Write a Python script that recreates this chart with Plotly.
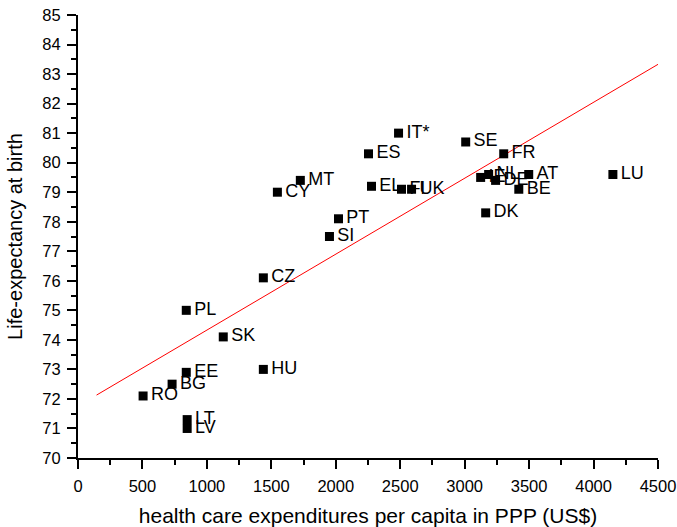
import plotly.graph_objects as go

countries = ["RO", "BG", "EE", "LT", "LV", "HU", "SK", "PL", "CZ", "SI", "PT", "CY", "MT",
             "EL", "FI", "UK", "ES", "IT*", "SE", "FR", "IE", "NL", "DE", "AT", "BE", "DK", "LU"]
expenditure = [505, 730, 840, 847, 847, 1438, 1127, 840, 1438, 1951, 2021, 1547, 1725,
               2277, 2510, 2588, 2254, 2487, 3008, 3303, 3124, 3186, 3240, 3497, 3420, 3163, 4150]
life_exp = [72.1, 72.5, 72.9, 71.3, 71.0, 73.0, 74.1, 75.0, 76.1, 77.5, 78.1, 79.0, 79.4,
            79.2, 79.1, 79.1, 80.3, 81.0, 80.7, 80.3, 79.5, 79.6, 79.4, 79.6, 79.1, 78.3, 79.6]
labels = countries

fit_x = [144, 4500]
fit_slope = 0.002571
fit_intercept = 71.76
fit_y = [fit_intercept + fit_slope * v for v in fit_x]

font_family = "Liberation Sans, Arial, sans-serif"

fig = go.Figure()
fig.add_trace(go.Scatter(
    x=fit_x, y=fit_y, mode="lines",
    line=dict(color="#ff0000", width=1), hoverinfo="skip", showlegend=False))
# labels (with invisible markers so the text sits beside the square)
fig.add_trace(go.Scatter(
    x=expenditure, y=life_exp, mode="markers+text", text=labels,
    textposition="middle right",
    marker=dict(symbol="square", size=11, color="rgba(0,0,0,0)", line=dict(width=0)),
    textfont=dict(family=font_family, size=18, color="black"),
    showlegend=False))
# visible markers drawn on top of labels
fig.add_trace(go.Scatter(
    x=expenditure, y=life_exp, mode="markers",
    marker=dict(symbol="square", size=9, color="black", line=dict(width=0)),
    showlegend=False))

axis_common = dict(
    showline=True, linecolor="black", linewidth=2,
    ticks="outside", ticklen=9, tickwidth=1.6, tickcolor="black",
    showgrid=False, zeroline=False, mirror=False, automargin=False,
    tickfont=dict(family=font_family, size=16.5, color="black"),
)

fig.update_xaxes(
    range=[0, 4500], tickmode="linear", tick0=0, dtick=500,
    minor=dict(ticks="outside", ticklen=5, tickwidth=1.6, tickcolor="black", dtick=250),
    ticklabelstandoff=3,
    title=dict(text="health care expenditures per capita in PPP (US$)",
               font=dict(family=font_family, size=21, color="black"), standoff=18),
    **axis_common)
fig.update_yaxes(
    range=[70, 85], tickmode="linear", tick0=70, dtick=1,
    minor=dict(ticks="outside", ticklen=5, tickwidth=1.6, tickcolor="black", dtick=0.5),
    ticklabelstandoff=3,
    title=dict(text="Life-expectancy at birth",
               font=dict(family=font_family, size=20, color="black"), standoff=14),
    **axis_common)

fig.update_layout(
    width=677, height=527,
    margin=dict(l=78, r=19, t=15, b=69),
    plot_bgcolor="white", paper_bgcolor="white",
    font=dict(family=font_family),
)

fig.write_html("out.html")
